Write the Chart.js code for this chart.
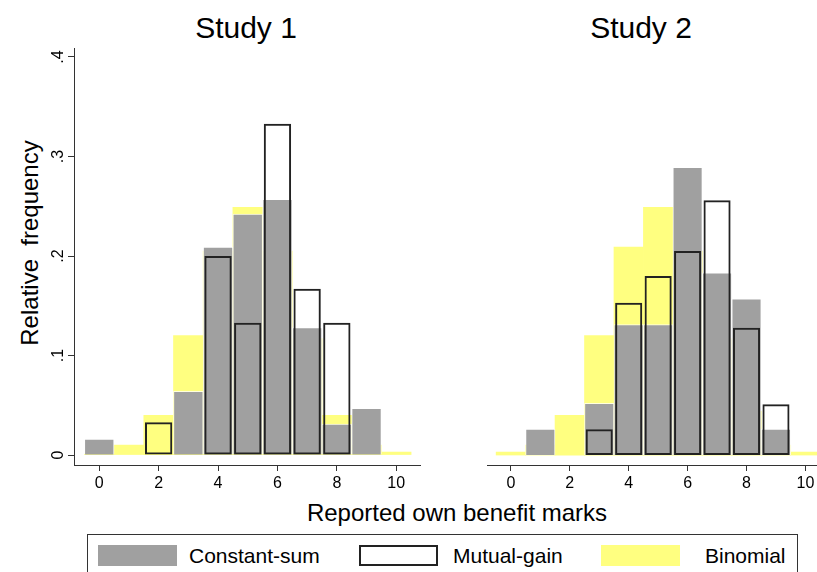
<!DOCTYPE html>
<html>
<head>
<meta charset="utf-8">
<script src="https://cdn.jsdelivr.net/npm/chart.js@4"></script>
<style>
  body { margin: 0; width: 817px; height: 572px; overflow: hidden; background: #fff;
         font-family: "Liberation Sans", Arial, sans-serif; color: #000; position: relative; }
  .abs { position: absolute; white-space: nowrap; }
  .title { font-size: 30px; line-height: 30px; top: 13px; transform: translateX(-50%); }
  #ytitle { font-size: 24px; left: 30px; top: 243px; transform: translate(-50%, -50%) rotate(-90deg); }
  #xtitle { font-size: 24px; left: 457px; top: 499px; transform: translateX(-50%); }
  #legend { left: 87px; top: 534px; width: 711px; height: 50px; border: 1px solid #333; box-sizing: border-box; }
  .sw { position: absolute; top: 10px; width: 79px; height: 21px; box-sizing: border-box; }
  .lt { position: absolute; top: 9px; font-size: 21px; line-height: 24px; }
</style>
</head>
<body>
<div class="abs title" style="left:246px">Study 1</div>
<div class="abs title" style="left:641px">Study 2</div>
<div class="abs" id="ytitle">Relative&nbsp; frequency</div>
<div class="abs" id="xtitle">Reported own benefit marks</div>

<canvas id="study1" class="abs" style="left:40px;top:40px"></canvas>
<canvas id="study2" class="abs" style="left:453px;top:40px"></canvas>

<div class="abs" id="legend">
  <div class="sw" style="left:10px;background:#a0a0a0"></div>
  <div class="lt" style="left:101px">Constant-sum</div>
  <div class="sw" style="left:271px;border:2px solid #222"></div>
  <div class="lt" style="left:365px">Mutual-gain</div>
  <div class="sw" style="left:513px;background:#ffff80"></div>
  <div class="lt" style="left:617px">Binomial</div>
</div>

<script>
// reported marks 0..10
const marks = [0, 1, 2, 3, 4, 5, 6, 7, 8, 9, 10];
const xTicks = [0, 2, 4, 6, 8, 10];
const yTicks = [0, 0.1, 0.2, 0.3, 0.4];
const yTickLabels = ["0", ".1", ".2", ".3", ".4"];

// Study 1 relative frequencies
const constSum1 = [0.016, null, null, 0.064, 0.209, 0.242, 0.257, 0.128, 0.031, 0.047, null];
const mutual1   = [null, null, 0.033, null, 0.200, 0.133, 0.333, 0.167, 0.133, null, null];
const binom1    = [0.001, 0.010, 0.040, 0.120, 0.205, 0.249, 0.205, 0.117, 0.040, 0.010, 0.003];

// Study 2 relative frequencies
const constSum2 = [null, 0.026, null, 0.052, 0.131, 0.131, 0.289, 0.183, 0.157, 0.026, null];
const mutual2   = [null, null, null, 0.026, 0.153, 0.180, 0.205, 0.256, 0.128, 0.051, null];
const binom2    = [0.003, 0.010, 0.040, 0.120, 0.209, 0.249, 0.205, 0.117, 0.044, 0.010, 0.003];

const pts = arr => marks.map((m, i) => ({ x: m, y: arr[i] }));

// y tick labels are drawn rotated, the way Stata does it
const rotatedYLabels = {
  id: "rotatedYLabels",
  afterDraw(chart) {
    const y = chart.scales.y;
    if (!y.options.display) return;
    const ctx = chart.ctx;
    ctx.save();
    ctx.font = "16px 'Liberation Sans', Arial, sans-serif";
    ctx.fillStyle = "#000";
    ctx.textAlign = "center";
    ctx.textBaseline = "alphabetic";
    yTicks.forEach((v, i) => {
      const py = y.getPixelForValue(v);
      ctx.save();
      ctx.translate(y.right - 11, py);
      ctx.rotate(-Math.PI / 2);
      ctx.fillText(yTickLabels[i], 0, 0);
      ctx.restore();
    });
    ctx.restore();
  }
};

function makePanel(id, width, xMin, xMax, padRight, showY, cs, mg, bn) {
  const el = document.getElementById(id);
  el.width = width;
  el.height = 460;
  el.style.width = width + "px";
  el.style.height = "460px";
  new Chart(el, {
    type: "bar",
    data: {
      datasets: [
        { label: "Constant-sum", data: pts(cs), order: 1, grouped: false,
          backgroundColor: "#a0a0a0", borderColor: "rgba(255,255,255,0.75)", borderWidth: 1,
          borderSkipped: "start", categoryPercentage: 1, barPercentage: 1 },
        { label: "Mutual-gain", data: pts(mg), order: 0, grouped: false,
          backgroundColor: "rgba(0,0,0,0)", borderColor: "#222", borderWidth: 2,
          borderSkipped: false, categoryPercentage: 1, barPercentage: 0.92 },
        { label: "Binomial", data: pts(bn), order: 2, grouped: false,
          backgroundColor: "#ffff80", borderWidth: 0,
          categoryPercentage: 1, barPercentage: 1 }
      ]
    },
    options: {
      responsive: false,
      animation: false,
      layout: { padding: { top: 8, right: padRight, left: 0, bottom: 0 } },
      plugins: { legend: { display: false }, tooltip: { enabled: false } },
      scales: {
        x: {
          type: "linear", min: xMin, max: xMax, offset: false,
          afterBuildTicks: s => { s.ticks = xTicks.map(v => ({ value: v })); },
          afterFit: s => { s.height = 35; },
          grid: { offset: false, drawOnChartArea: false, drawTicks: true, tickLength: 6, color: "#333" },
          border: { display: true, color: "#333", width: 1 },
          ticks: { color: "#000", padding: 3, maxRotation: 0,
                   font: { family: "'Liberation Sans', Arial, sans-serif", size: 16 } }
        },
        y: {
          display: showY, min: -0.01, max: 0.409,
          afterBuildTicks: s => { s.ticks = yTicks.map(v => ({ value: v })); },
          afterFit: s => { s.width = 34; },
          grid: { drawOnChartArea: false, drawTicks: true, tickLength: 6, color: "#333" },
          border: { display: true, color: "#333", width: 1 },
          ticks: { display: false }
        }
      }
    },
    plugins: [rotatedYLabels]
  });
}

makePanel("study1", 390, -0.85, 10.8, 10, true, constSum1, mutual1, binom1);
makePanel("study2", 390, -0.81, 10.8, 14, false, constSum2, mutual2, binom2);
</script>
</body>
</html>
